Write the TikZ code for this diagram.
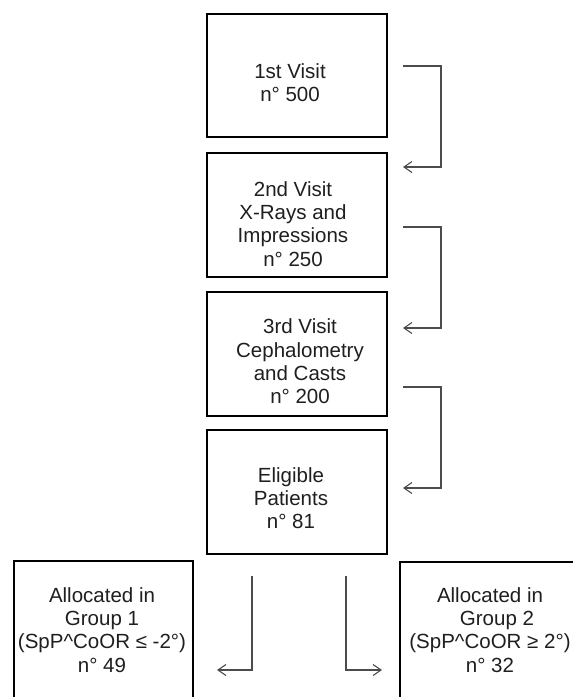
\documentclass[tikz,border=0pt]{standalone}
\usepackage{fontspec}
\setmainfont{Liberation Sans}
\usetikzlibrary{arrows.meta}
\begin{document}
\begin{tikzpicture}[x=1pt,y=-1pt,
  boxst/.style={draw=black, line width=2.6pt, rectangle, inner sep=0pt},
  txt/.style={align=center, font=\fontsize{20.5}{23.3}\selectfont, inner sep=0pt, text=black!88},
  conn/.style={draw=black!70, line width=1.1pt, -{Straight Barb[length=8pt,width=11pt]}}]
\clip (0,0) rectangle (573,697);
\fill[white] (0,0) rectangle (573,697);
% boxes
\node[boxst, minimum width=180pt, minimum height=123pt] (b1) at (297,75.5) {};
\node[boxst, minimum width=180pt, minimum height=124pt] (b2) at (297,215) {};
\node[boxst, minimum width=180pt, minimum height=124pt] (b3) at (297,354) {};
\node[boxst, minimum width=180pt, minimum height=124pt] (b4) at (297,492) {};
\node[boxst, minimum width=179pt, minimum height=140pt] (b5) at (103.5,631) {};
\node[boxst, minimum width=176pt, minimum height=140pt] (b6) at (488,632) {};
% texts
\node[txt] (t1) at (290,82.5) {1st Visit\\n° 500};
\node[txt] (t2) at (293,224) {2nd Visit\\X-Rays and\\Impressions\\n° 250};
\node[txt] (t3) at (300,361.5) {3rd Visit\\Cephalometry\\and Casts\\n° 200};
\node[txt] (t4) at (291,498) {Eligible\\Patients\\n° 81};
\node[txt] (t5) at (102,630) {Allocated in\\Group 1\hspace{12pt}\\(SpP\^{}CoOR ≤ -2°)\\n° 49};
\node[txt] (t6) at (490,630) {Allocated in\\\hspace{14pt}Group 2\\(SpP\^{}CoOR ≥ 2°)\\n° 32};
% connector end points
\coordinate (s1) at (403,66);  \coordinate (k1) at (441,66);  \coordinate (e1) at (403,167);
\coordinate (s2) at (403,227); \coordinate (k2) at (441,227); \coordinate (e2) at (403,328);
\coordinate (s3) at (403,387); \coordinate (k3) at (441,387); \coordinate (e3) at (403,488);
\coordinate (s4) at (252,576); \coordinate (e4) at (217,670);
\coordinate (s5) at (346,576); \coordinate (e5) at (382,670);
% connectors
\draw[conn] (s1) -- (k1) |- (e1);
\draw[conn] (s2) -- (k2) |- (e2);
\draw[conn] (s3) -- (k3) |- (e3);
\draw[conn] (s4) |- (e4);
\draw[conn] (s5) |- (e5);
\end{tikzpicture}
\end{document}
